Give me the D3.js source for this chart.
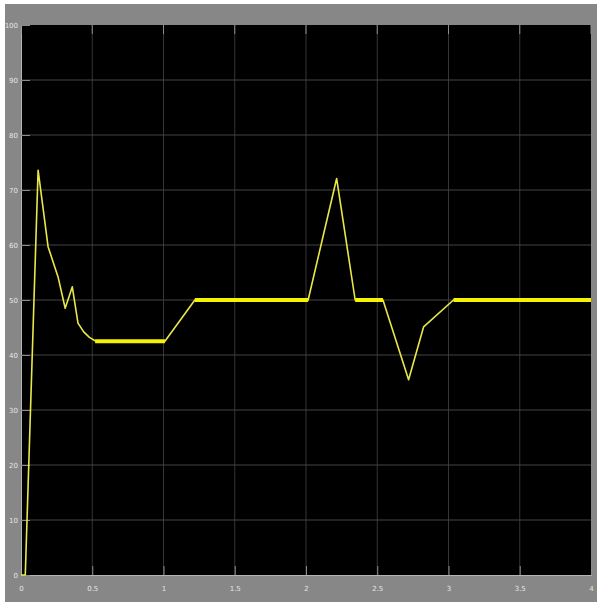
<!DOCTYPE html>
<html>
<head>
<meta charset="utf-8">
<script src="https://cdn.jsdelivr.net/npm/d3@7"></script>
<style>
  html, body { margin: 0; padding: 0; background: #ffffff; }
  svg { display: block; }
</style>
</head>
<body>
<script>
// ---- data ----
const timeValues  = [0, 0.03, 0.12, 0.19, 0.26, 0.31, 0.36, 0.40, 0.44, 0.48, 0.52, 1.01, 1.22, 2.015, 2.215, 2.345, 2.54, 2.72, 2.825, 3.035, 4.0];
const signalValues = [0, 0, 73.6, 59.7, 54.2, 48.5, 52.4, 45.8, 44.2, 43.2, 42.6, 42.5, 50, 50, 72.1, 50, 50, 35.5, 45.1, 50, 50];
// steady-state stretches where the trace is noisy (drawn thicker)
const steadyStart = [0.52, 1.22, 2.345, 3.035];
const steadyEnd   = [1.01, 2.015, 2.54, 4.0];
const steadyLevel = [42.5, 50, 50, 50];
const xTicks = [0, 0.5, 1, 1.5, 2, 2.5, 3, 3.5, 4];
const yTicks = [0, 10, 20, 30, 40, 50, 60, 70, 80, 90, 100];

const W = 597, H = 602;
const plot = { left: 21, right: 591, top: 25, bottom: 575 };

const svg = d3.select("body").append("svg").attr("width", W).attr("height", H);

// gray scope frame
svg.append("rect").attr("x", 5).attr("y", 4).attr("width", W - 5).attr("height", H - 4).attr("fill", "#878787");
svg.append("rect").attr("x", plot.left).attr("y", plot.top)
  .attr("width", plot.right - plot.left).attr("height", plot.bottom - plot.top + 1)
  .attr("fill", "#000000");

const x = d3.scaleLinear().domain([0, 4]).range([plot.left, plot.right]);
const y = d3.scaleLinear().domain([0, 100]).range([plot.bottom, plot.top]);

// grid
const g = svg.append("g");
g.selectAll("line.vg").data(xTicks.slice(1, -1)).join("line")
  .attr("x1", d => x(d)).attr("x2", d => x(d))
  .attr("y1", plot.top).attr("y2", plot.bottom)
  .attr("stroke", "#363636").attr("stroke-width", 1);
g.selectAll("line.hg").data(yTicks.slice(1, -1)).join("line")
  .attr("x1", plot.left).attr("x2", plot.right)
  .attr("y1", d => y(d)).attr("y2", d => y(d))
  .attr("stroke", "#444444").attr("stroke-width", 1);

// axes with inward ticks
const xAxis = d3.axisBottom(x).tickValues(xTicks).tickSize(-9).tickPadding(11).tickFormat(d3.format("~g"));
const yAxis = d3.axisLeft(y).tickValues(yTicks).tickSize(-9).tickPadding(3).tickFormat(d3.format("~g"));

const xa = svg.append("g").attr("transform", `translate(0,${plot.bottom})`).call(xAxis);
const ya = svg.append("g").attr("transform", `translate(${plot.left},0)`).call(yAxis);
[xa, ya].forEach(a => {
  a.select(".domain").attr("stroke", "#b4b4b4").attr("stroke-width", 1);
  a.selectAll(".tick line").attr("stroke", "#8c8c8c").attr("stroke-width", 1);
  a.selectAll(".tick text").attr("fill", "#e6e6e6").attr("font-size", 7)
    .attr("font-family", "DejaVu Sans, sans-serif");
});

// top inward ticks
svg.append("g").selectAll("line").data(xTicks).join("line")
  .attr("x1", d => x(d)).attr("x2", d => x(d))
  .attr("y1", plot.top).attr("y2", plot.top + 9)
  .attr("stroke", "#8c8c8c");

// trace
const pts = timeValues.map((t, i) => [t, signalValues[i]]);
const line = d3.line().x(d => x(d[0])).y(d => y(d[1]));

svg.append("path").datum(pts)
  .attr("d", line)
  .attr("fill", "none")
  .attr("stroke", "#e8e84a")
  .attr("stroke-width", 1.6)
  .attr("stroke-linejoin", "round");

const steady = steadyStart.map((s, i) => [[s, steadyLevel[i]], [steadyEnd[i], steadyLevel[i]]]);
svg.append("g").selectAll("path").data(steady).join("path")
  .attr("d", line)
  .attr("fill", "none")
  .attr("stroke", "#f4f400")
  .attr("stroke-width", 4);
</script>
</body>
</html>
